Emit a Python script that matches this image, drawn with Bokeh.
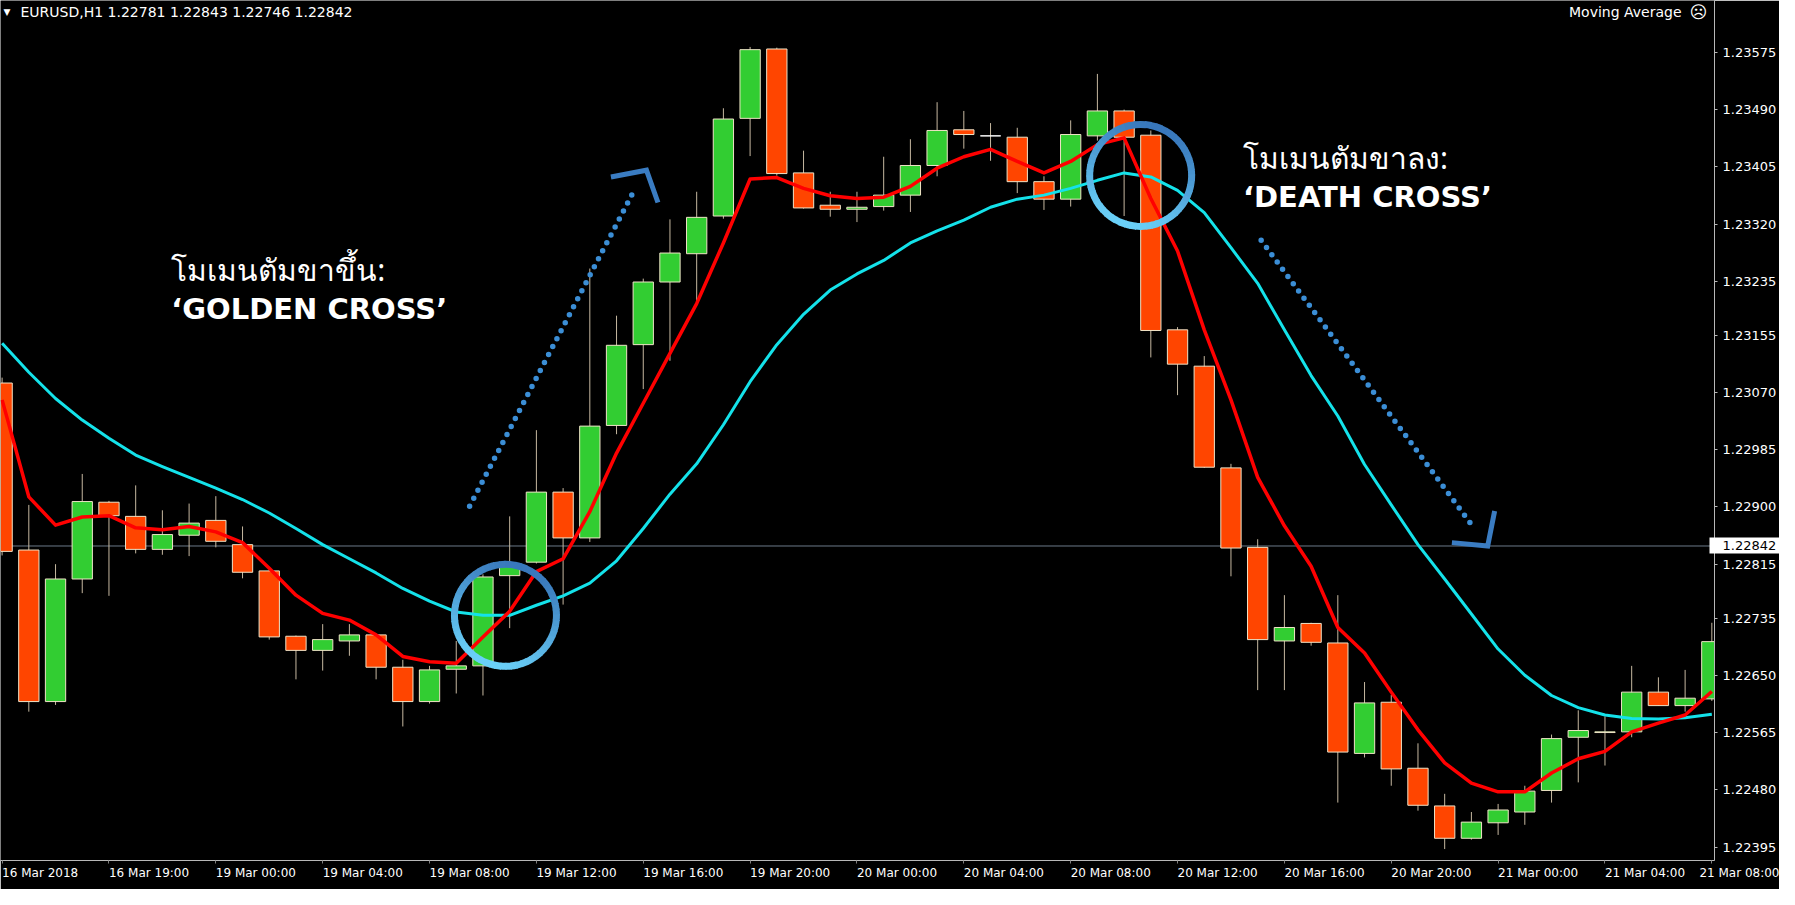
import numpy as np
from bokeh.plotting import figure
from bokeh.models import (Range1d, FixedTicker, Span, Label, ColumnDataSource,
                          PrintfTickFormatter, LinearAxis)
from bokeh.embed import file_html
from bokeh.resources import INLINE

# ---------------- data ----------------
symbol = "EURUSD,H1"
header_ohlc = ["1.22781", "1.22843", "1.22746", "1.22842"]
current_price = 1.22842
indicator_name = "Moving Average"

opens = [1.23084, 1.22836, 1.22611, 1.22793, 1.22907, 1.22886, 1.22837, 1.22858, 1.22880, 1.22844,
         1.22805, 1.22708, 1.22687, 1.22701, 1.22710, 1.22662, 1.22611, 1.22659, 1.22664, 1.22798,
         1.22818, 1.22922, 1.22854, 1.23021, 1.23141, 1.23234, 1.23276, 1.23332, 1.23477, 1.23580,
         1.23396, 1.23348, 1.23342, 1.23346, 1.23363, 1.23407, 1.23460, 1.23451, 1.23449, 1.23383,
         1.23357, 1.23451, 1.23488, 1.23452, 1.23163, 1.23109, 1.22958, 1.22840, 1.22701, 1.22727,
         1.22698, 1.22534, 1.22610, 1.22512, 1.22456, 1.22408, 1.22431, 1.22447, 1.22479, 1.22558,
         1.22565, 1.22566, 1.22625, 1.22605, 1.22615]
highs = [1.23092, 1.22903, 1.22815, 1.22949, 1.22909, 1.22932, 1.22895, 1.22905, 1.22916, 1.22871,
         1.22806, 1.22709, 1.22726, 1.22726, 1.22711, 1.22673, 1.22664, 1.22701, 1.22800, 1.22886,
         1.23014, 1.22928, 1.23254, 1.23184, 1.23239, 1.23327, 1.23368, 1.23492, 1.23583, 1.23582,
         1.23429, 1.23368, 1.23368, 1.23420, 1.23446, 1.23501, 1.23488, 1.23470, 1.23463, 1.23391,
         1.23474, 1.23543, 1.23490, 1.23459, 1.23167, 1.23124, 1.22964, 1.22852, 1.22769, 1.22728,
         1.22769, 1.22640, 1.22621, 1.22549, 1.22474, 1.22447, 1.22459, 1.22486, 1.22562, 1.22598,
         1.22589, 1.22664, 1.22647, 1.22658, 1.22728]
lows = [1.22828, 1.22596, 1.22606, 1.22772, 1.22768, 1.22831, 1.22829, 1.22827, 1.22840, 1.22794,
        1.22703, 1.22644, 1.22657, 1.22679, 1.22644, 1.22574, 1.22608, 1.22623, 1.22620, 1.22720,
        1.22816, 1.22755, 1.22848, 1.23008, 1.23075, 1.23117, 1.23202, 1.23328, 1.23421, 1.23392,
        1.23343, 1.23331, 1.23323, 1.23340, 1.23338, 1.23391, 1.23432, 1.23414, 1.23366, 1.23341,
        1.23346, 1.23444, 1.23332, 1.23122, 1.23066, 1.22958, 1.22797, 1.22628, 1.22628, 1.22694,
        1.22461, 1.22528, 1.22486, 1.22449, 1.22392, 1.22406, 1.22413, 1.22428, 1.22461, 1.22491,
        1.22516, 1.22558, 1.22605, 1.22596, 1.22612]
closes = [1.22834, 1.22611, 1.22793, 1.22908, 1.22887, 1.22837, 1.22859, 1.22876, 1.22849, 1.22803,
          1.22707, 1.22687, 1.22703, 1.22710, 1.22662, 1.22611, 1.22658, 1.22664, 1.22796, 1.22816,
          1.22922, 1.22854, 1.23020, 1.23140, 1.23234, 1.23277, 1.23330, 1.23476, 1.23579, 1.23395,
          1.23344, 1.23342, 1.23345, 1.23363, 1.23407, 1.23459, 1.23453, 1.23451, 1.23383, 1.23357,
          1.23453, 1.23488, 1.23449, 1.23162, 1.23112, 1.22959, 1.22839, 1.22703, 1.22721, 1.22699,
          1.22536, 1.22609, 1.22511, 1.22457, 1.22408, 1.22432, 1.22450, 1.22478, 1.22556, 1.22568,
          1.22566, 1.22625, 1.22605, 1.22616, 1.22700]
ma_fast = [1.23059, 1.22915, 1.22873, 1.22885, 1.22887, 1.22869, 1.22866, 1.22871, 1.22863, 1.22847,
           1.22809, 1.22769, 1.22742, 1.22732, 1.22710, 1.22678, 1.22670, 1.22668, 1.22707, 1.22745,
           1.22804, 1.22823, 1.22893, 1.22980, 1.23054, 1.23128, 1.23202, 1.23292, 1.23387, 1.23389,
           1.23373, 1.23362, 1.23358, 1.23360, 1.23376, 1.23403, 1.23420, 1.23431, 1.23413, 1.23396,
           1.23413, 1.23438, 1.23448, 1.23358, 1.23280, 1.23163, 1.23059, 1.22944, 1.22872, 1.22812,
           1.22721, 1.22683, 1.22625, 1.22569, 1.22520, 1.22490, 1.22477, 1.22477, 1.22505, 1.22526,
           1.22537, 1.22566, 1.22579, 1.22591, 1.22626]
ma_slow = [1.23143, 1.23100, 1.23061, 1.23029, 1.23002, 1.22977, 1.22960, 1.22944, 1.22928, 1.22911,
           1.22891, 1.22868, 1.22844, 1.22823, 1.22802, 1.22779, 1.22760, 1.22744, 1.22739, 1.22739,
           1.22754, 1.22768, 1.22787, 1.22820, 1.22868, 1.22919, 1.22964, 1.23022, 1.23086, 1.23141,
           1.23186, 1.23222, 1.23246, 1.23266, 1.23292, 1.23310, 1.23326, 1.23345, 1.23357, 1.23363,
           1.23373, 1.23385, 1.23396, 1.23390, 1.23370, 1.23337, 1.23285, 1.23232, 1.23163, 1.23095,
           1.23035, 1.22963, 1.22903, 1.22844, 1.22793, 1.22741, 1.22689, 1.22650, 1.22620, 1.22602,
           1.22591, 1.22586, 1.22585, 1.22587, 1.22592]

price_ticks = [1.22395, 1.22480, 1.22565, 1.22650, 1.22735, 1.22815, 1.22900, 1.22985,
               1.23070, 1.23155, 1.23235, 1.23320, 1.23405, 1.23490, 1.23575]
time_labels = ["16 Mar 2018", "16 Mar 19:00", "19 Mar 00:00", "19 Mar 04:00", "19 Mar 08:00",
               "19 Mar 12:00", "19 Mar 16:00", "19 Mar 20:00", "20 Mar 00:00", "20 Mar 04:00",
               "20 Mar 08:00", "20 Mar 12:00", "20 Mar 16:00", "20 Mar 20:00", "21 Mar 00:00",
               "21 Mar 04:00", "21 Mar 08:00"]
time_label_step = 4

golden_title = "โมเมนตัมขาขึ้น:"
golden_name = "‘GOLDEN CROSS’"
death_title = "โมเมนตัมขาลง:"
death_name = "‘DEATH CROSS’"

# ---------------- layout ----------------
W, H = 1779, 889
FW, FH = 1711, 861          # frame size left after the price axis (~68px) and time axis (~28px)
n = len(opens)
idx = np.arange(n)

p = figure(width=W, height=H, output_backend="svg", toolbar_location=None,
           x_range=Range1d(-0.06, n - 0.9), y_range=Range1d(1.22375, 1.23652),
           y_axis_location="right", min_border_left=0, min_border_top=0,
           min_border_right=0, min_border_bottom=0,
           background_fill_color="black", border_fill_color="black",
           outline_line_color=None)
p.grid.visible = False

ya = p.yaxis[0]
ya.ticker = FixedTicker(ticks=price_ticks)
ya.formatter = PrintfTickFormatter(format="%.5f")
ya.axis_line_color = "#b8b8b8"
ya.major_tick_line_color = "#b8b8b8"
ya.major_tick_out = 3
ya.major_tick_in = 0
ya.minor_tick_line_color = None
ya.major_label_text_color = "white"
ya.major_label_text_font = "DejaVu Sans"
ya.major_label_text_font_size = "13px"
ya.major_label_standoff = 5

# current-price tag: an outer price axis whose single inward tick is a wide white bar,
# with its black label pulled back over that bar
tag = LinearAxis(ticker=FixedTicker(ticks=[current_price]),
                 formatter=PrintfTickFormatter(format="%.5f"),
                 axis_line_color=None, major_tick_out=0, major_tick_in=70,
                 major_tick_line_color="white", major_tick_line_width=16,
                 minor_tick_line_color=None, major_label_standoff=-57,
                 major_label_text_color="black", major_label_text_font="DejaVu Sans",
                 major_label_text_font_size="13px")
p.add_layout(tag, "right")

xa = p.xaxis[0]
time_ticks = [i * time_label_step for i in range(len(time_labels))]
xa.ticker = FixedTicker(ticks=time_ticks)
xa.major_label_overrides = {t: lab for t, lab in zip(time_ticks, time_labels)}
xa.major_label_orientation = -1e-6        # tiny negative angle -> labels start at their tick
xa.axis_line_color = "#b8b8b8"
xa.major_tick_line_color = "#808080"
xa.major_tick_out = 3
xa.major_tick_in = 0
xa.minor_tick_line_color = None
xa.major_label_text_color = "white"
xa.major_label_text_font = "DejaVu Sans"
xa.major_label_text_font_size = "12px"
xa.major_label_standoff = 9

# current price line (behind candles)
p.add_layout(Span(location=current_price, dimension="width", line_color="#6c7a88",
                  line_width=1, level="underlay"))

# ---------------- candles ----------------
o = np.array(opens); c = np.array(closes)
fills = ["#32cd32" if cc > oo else ("#ff4500" if cc < oo else "#ffffff") for oo, cc in zip(o, c)]
outl = ["#efe3c6" if cc != oo else "#ffffff" for oo, cc in zip(o, c)]
src = ColumnDataSource(dict(x=idx, top=np.maximum(o, c), bottom=np.minimum(o, c),
                            high=highs, low=lows, fill=fills, outl=outl))
p.segment(x0="x", y0="low", x1="x", y1="high", source=src, line_color="#c6b8a0", line_width=1)
p.vbar(x="x", width=0.76, top="top", bottom="bottom", source=src,
       fill_color="fill", line_color="outl", line_width=1)

# ---------------- moving averages ----------------
p.line(idx, ma_slow, line_color="#14e2ea", line_width=3, line_join="round")
p.line(idx, ma_fast, line_color="#ff0000", line_width=3.5, line_join="round")

# ---------------- crossings (circled) ----------------
fa = np.array(ma_fast); sa = np.array(ma_slow)
d = fa - sa
crosses = []
for i in range(n - 1):
    if d[i] * d[i + 1] < 0:
        t = d[i] / (d[i] - d[i + 1])
        crosses.append((i + t, fa[i] + t * (fa[i + 1] - fa[i]), "golden" if d[i + 1] > 0 else "death"))
golden = next(cr for cr in crosses if cr[2] == "golden")
death = next(cr for cr in crosses if cr[2] == "death")


def mix(c1, c2, t):
    a = [int(c1[k:k + 2], 16) for k in (1, 3, 5)]
    b = [int(c2[k:k + 2], 16) for k in (1, 3, 5)]
    return "#%02x%02x%02x" % tuple(int(round(a[j] + (b[j] - a[j]) * t)) for j in range(3))


nseg = 60
ang = np.linspace(0, 2 * np.pi, nseg + 1)
for cx, cy, _ in (golden, death):
    mid = (ang[:-1] + ang[1:]) / 2
    tt = (1 - np.sin(mid + 0.35)) / 2
    cols = [mix("#3877bb", "#6ad0f8", v) for v in tt]
    p.arc(x=[cx] * nseg, y=[cy] * nseg, radius=51, radius_units="screen",
          start_angle=ang[:-1], end_angle=ang[1:] + 0.02, line_color=cols, line_width=7)

# ---------------- arrows ----------------
arrow_color = "#3b8ed6"
p.line([17.50, 23.58], [1.22901, 1.23364], line_width=5.5, line_dash="0 9",
       line_cap="round", line_color=arrow_color)
p.line([22.79, 24.12, 24.55], [1.23390, 1.23400, 1.23352], line_width=5,
       line_color="#3a7cc2", line_join="miter")
p.line([47.13, 54.98], [1.23296, 1.22875], line_width=5.5, line_dash="0 9",
       line_cap="round", line_color=arrow_color)
p.line([54.27, 55.61, 55.87], [1.22847, 1.22842, 1.22894], line_width=5,
       line_color="#3a7cc2", line_join="miter")

# ---------------- annotation texts ----------------
thai_font = "Noto Sans"
for x0, y1, y2, t1, t2 in ((6.33, 1.23252, 1.23194, golden_title, golden_name),
                           (46.45, 1.23419, 1.23360, death_title, death_name)):
    p.add_layout(Label(x=x0, y=y1, text=t1, text_color="white", text_font=thai_font,
                       text_font_size="30px", text_baseline="alphabetic"))
    p.add_layout(Label(x=x0, y=y2, text=t2, text_color="white", text_font="DejaVu Sans",
                       text_font_style="bold", text_font_size="29px", text_baseline="alphabetic"))

# ---------------- header / indicator name (screen units inside the frame) ----------------
hy = FH - 12
p.add_layout(Label(x=3, y=hy, x_units="screen", y_units="screen", text="▼",
                   text_color="white", text_font="DejaVu Sans", text_font_size="9px",
                   text_baseline="middle"))
p.add_layout(Label(x=20, y=hy, x_units="screen", y_units="screen",
                   text=symbol + "  " + " ".join(header_ohlc),
                   text_color="white", text_font="DejaVu Sans", text_font_size="14px",
                   text_baseline="middle"))
p.add_layout(Label(x=FW - 30, y=hy, x_units="screen", y_units="screen",
                   text=indicator_name, text_align="right",
                   text_color="white", text_font="DejaVu Sans", text_font_size="14px",
                   text_baseline="middle"))
p.add_layout(Label(x=FW - 13, y=hy, x_units="screen", y_units="screen",
                   text="☹", text_align="center",
                   text_color="white", text_font="DejaVu Sans", text_font_size="17px",
                   text_baseline="middle"))

open("out.html", "w").write(file_html(p, INLINE))
